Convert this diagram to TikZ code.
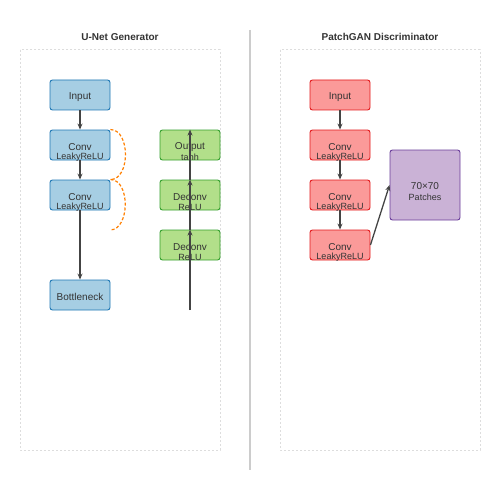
\documentclass[tikz,border=0pt]{standalone}
\usepackage{fontspec}
\setmainfont{Liberation Sans}
\usetikzlibrary{arrows.meta}
\definecolor{txt}{HTML}{333333}
\definecolor{arr}{HTML}{444444}
\definecolor{bfill}{HTML}{A6CEE3}\definecolor{bdraw}{HTML}{1F78B4}
\definecolor{gfill}{HTML}{B2DF8A}\definecolor{gdraw}{HTML}{33A02C}
\definecolor{rfill}{HTML}{FB9A99}\definecolor{rdraw}{HTML}{E31A1C}
\definecolor{pfill}{HTML}{CAB2D6}\definecolor{pdraw}{HTML}{6A3D9A}
\definecolor{orng}{HTML}{FF7F00}
\definecolor{panel}{HTML}{DDDDDD}
\definecolor{divider}{HTML}{CCCCCC}
\tikzset{
  box/.style={rounded corners=2.5pt, line width=0.9pt, minimum width=60pt, minimum height=30pt, inner sep=0pt, text=txt, font=\fontsize{10}{12}\selectfont},
  bluebox/.style={box, fill=bfill, draw=bdraw},
  greenbox/.style={box, fill=gfill, draw=gdraw},
  redbox/.style={box, fill=rfill, draw=rdraw},
  purplebox/.style={box, fill=pfill, draw=pdraw, minimum width=70pt, minimum height=70pt},
  onetxt/.style={text=txt, font=\fontsize{10}{12}\selectfont, inner sep=0pt, yshift=-1.8pt},
  maintxt/.style={text=txt, font=\fontsize{10}{12}\selectfont, inner sep=0pt, yshift=-2.3pt},
  subtxt/.style={text=txt, font=\fontsize{9}{11}\selectfont, inner sep=0pt, yshift=-12pt},
  flow/.style={draw=arr, line width=1.3pt, -{Stealth[length=6pt,width=5pt]}},
  skip/.style={draw=orng, line width=1.2pt, dash pattern=on 3pt off 2pt},
  panelbox/.style={draw=panel, line width=1pt, dash pattern=on 2pt off 2pt},
  title/.style={text=txt, font=\bfseries\fontsize{10}{12}\selectfont, inner sep=0pt},
}
\begin{document}
\begin{tikzpicture}[x=1pt,y=-1pt]
\useasboundingbox (0,0) rectangle (500,500);
% panels
\draw[panelbox] (20,50) rectangle (220,450);
\draw[panelbox] (280,50) rectangle (480,450);
\draw[draw=divider, line width=1.6pt] (250,30) -- (250,470);
\node[title] (t1) at (120,37) {U-Net Generator};
\node[title] (t2) at (380,37) {PatchGAN Discriminator};
% generator encoder
\node[bluebox, label={[onetxt]center:Input}] (gin) at (80,95) {};
\node[bluebox, label={[maintxt]center:Conv}, label={[subtxt]center:LeakyReLU}] (gc1) at (80,145) {};
\node[bluebox, label={[maintxt]center:Conv}, label={[subtxt]center:LeakyReLU}] (gc2) at (80,195) {};
\node[bluebox, label={[onetxt]center:Bottleneck}] (gbn) at (80,295) {};
% generator decoder
\node[greenbox, label={[maintxt]center:Output}, label={[subtxt]center:tanh}] (gout) at (190,145) {};
\node[greenbox, label={[maintxt]center:Deconv}, label={[subtxt]center:ReLU}] (gd1) at (190,195) {};
\node[greenbox, label={[maintxt]center:Deconv}, label={[subtxt]center:ReLU}] (gd2) at (190,245) {};
\coordinate (gstart) at (190,310);
\coordinate (skipend) at (110,230);
\draw[flow] (gin.south) -- (gc1.north);
\draw[flow] (gc1.south) -- (gc2.north);
\draw[flow] (gc2.south) -- (gbn.north);
\draw[flow] (gstart) -- (gd2.north);
\draw[flow] (gd2.north) -- (gd1.north);
\draw[flow] (gd1.north) -- (gout.north);
\draw[skip] (gc1.north east) .. controls +(20,0) and +(20,0) .. (gc2.north east);
\draw[skip] (gc2.north east) .. controls +(20,0) and +(20,0) .. (skipend);
% discriminator
\node[redbox, label={[onetxt]center:Input}] (din) at (340,95) {};
\node[redbox, label={[maintxt]center:Conv}, label={[subtxt]center:LeakyReLU}] (dc1) at (340,145) {};
\node[redbox, label={[maintxt]center:Conv}, label={[subtxt]center:LeakyReLU}] (dc2) at (340,195) {};
\node[redbox, label={[maintxt]center:Conv}, label={[subtxt]center:LeakyReLU}] (dc3) at (340,245) {};
\node[purplebox, label={[maintxt, yshift=1pt]center:70×70}, label={[subtxt]center:Patches}] (patch) at (425,185) {};
\draw[flow] (din.south) -- (dc1.north);
\draw[flow] (dc1.south) -- (dc2.north);
\draw[flow] (dc2.south) -- (dc3.north);
\draw[flow] (dc3.east) -- (patch.west);
\end{tikzpicture}
\end{document}
